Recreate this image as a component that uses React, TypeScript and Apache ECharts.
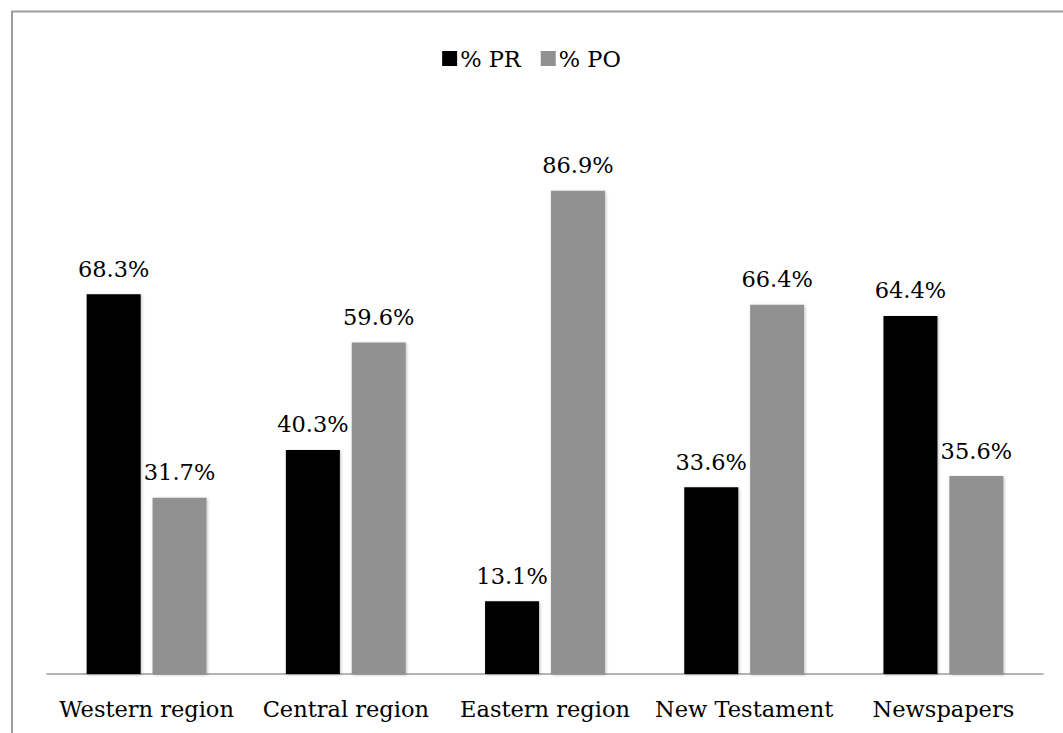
import React, { useEffect, useRef } from "react";
import * as echarts from "echarts";

const categories = ["Western region", "Central region", "Eastern region", "New Testament", "Newspapers"];
const seriesNames = ["% PR", "% PO"];
const prValues = [68.3, 40.3, 13.1, 33.6, 64.4];
const poValues = [31.7, 59.6, 86.9, 66.4, 35.6];
const colors = ["#000000", "#919191"];

const FONT = "DejaVu Serif";
const FS = 22.5;

export default function App() {
  const ref = useRef<HTMLDivElement>(null);
  useEffect(() => {
    if (!ref.current) return;
    const chart = echarts.init(ref.current, null, { renderer: "svg" });
    const mkSeries = (name: string, data: number[], color: string) => ({
      name,
      type: "bar",
      data,
      barWidth: 54,
      barGap: "22%",
      itemStyle: {
        color,
        shadowColor: "rgba(0,0,0,0.25)",
        shadowBlur: 3,
        shadowOffsetX: 1,
        shadowOffsetY: 1,
      },
      label: {
        show: true,
        position: "top",
        distance: 14,
        color: "#000",
        fontFamily: FONT,
        fontSize: FS,
        formatter: (p: any) => p.value.toFixed(1) + "%",
      },
    });
    chart.setOption({
      animation: false,
      backgroundColor: "#ffffff",
      textStyle: { fontFamily: FONT },
      graphic: [
        {
          type: "rect",
          shape: { x: 12, y: 11.5, width: 1100, height: 800 },
          style: { fill: "none", stroke: "#9c9c9c", lineWidth: 2 },
          silent: true,
        },
      ],
      legend: {
        data: seriesNames,
        top: 42,
        left: "center",
        icon: "rect",
        itemWidth: 15,
        itemHeight: 15,
        itemGap: 20,
        textStyle: { fontFamily: FONT, fontSize: FS, color: "#000", padding: [0, 0, 0, -2] },
      },
      grid: { left: 47, right: 20, top: 118, bottom: 59, containLabel: false },
      xAxis: {
        type: "category",
        data: categories,
        axisLine: { show: true, lineStyle: { color: "#9c9c9c", width: 1.5 } },
        axisTick: { show: false },
        axisLabel: { margin: 23, color: "#000", fontFamily: FONT, fontSize: FS, interval: 0 },
      },
      yAxis: {
        type: "value",
        min: 0,
        max: 100,
        show: false,
        splitLine: { show: false },
      },
      series: [
        mkSeries(seriesNames[0], prValues, colors[0]),
        mkSeries(seriesNames[1], poValues, colors[1]),
      ],
    });
    return () => chart.dispose();
  }, []);
  return (
    <div
      ref={ref}
      style={{ position: "fixed", left: 0, top: 0, width: 1063, height: 733, background: "#fff" }}
    />
  );
}
